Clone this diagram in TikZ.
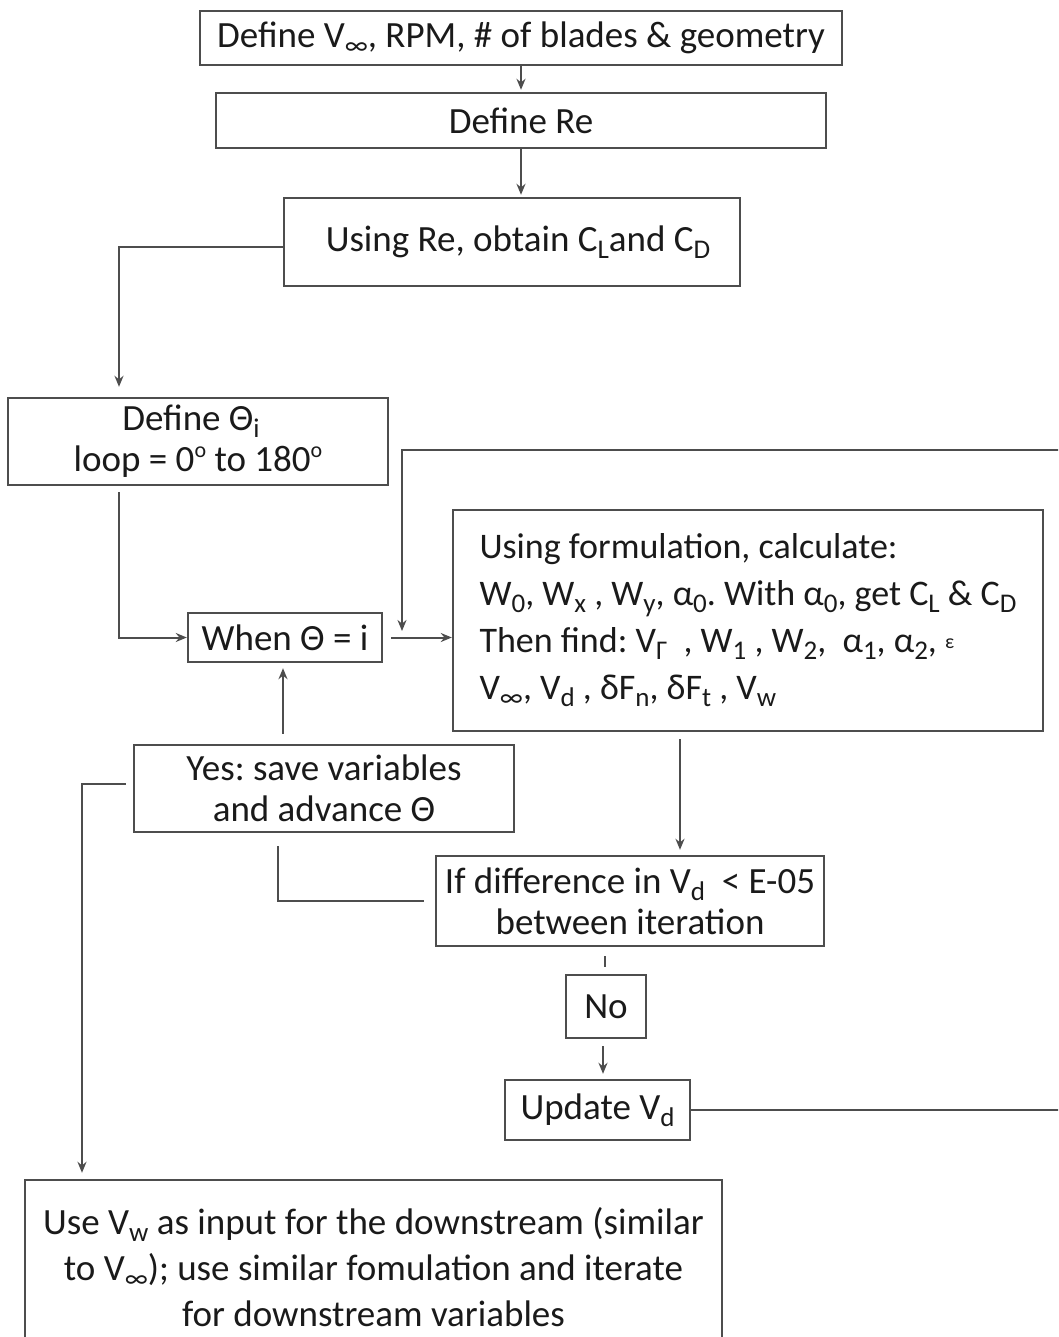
\documentclass[tikz,border=0pt]{standalone}
\usepackage{fontspec}
\setmainfont{Carlito}
\usetikzlibrary{arrows.meta,calc}
\definecolor{linec}{HTML}{4D4D4D}
\definecolor{txtc}{HTML}{1A1A1A}
\newcommand\sbs[1]{\raisebox{-7pt}{\fontsize{27}{27}\selectfont #1}}
\newcommand\sps[1]{\raisebox{14pt}{\fontsize{22}{22}\selectfont #1}}
\frenchspacing
\tikzset{
  box/.style={draw=linec, line width=2.4pt, inner sep=0pt, align=center, text=txtc, font=\fontsize{37}{41}\selectfont},
  conn/.style={draw=linec, line width=2pt},
  arr/.style={conn, -{Stealth[length=11pt,width=9pt]}}
}
\begin{document}
\begin{tikzpicture}[x=1pt,y=-1pt]
\useasboundingbox (0,0) rectangle (1058,1337);
\clip (0,0) rectangle (1058,1337);
\node[box, minimum width=642, minimum height=54] (top) at (521,38) {Define V\sbs{∞}, RPM, \# of blades \& geometry};
\node[box, minimum width=610, minimum height=55] (re) at (521,120.5) {Define Re};
\node[box, minimum width=456, minimum height=88] (clcd) at (512,242) {\hspace*{12pt}Using Re, obtain C\sbs{L}and C\sbs{D}};
\node[box, minimum width=380, minimum height=87] (theta) at (198,441.5) {\hspace*{-14pt}Define Θ\sbs{i}\\loop = 0\sps{o} to 180\sps{o}};
\node[box, minimum width=194, minimum height=49] (when) at (285,637.5) {When Θ = i};
\node[box, minimum width=590, minimum height=221, align=left, font=\fontsize{36}{47}\selectfont] (form) at (748,620.5) {Using formulation, calculate:\\W\sbs{0}, W\sbs{x} , W\sbs{y}, α\sbs{0}. With α\sbs{0}, get C\sbs{L} \& C\sbs{D}\hspace*{15pt}\\Then find: V\sbs{Γ}~ , W\sbs{1} , W\sbs{2}, ~α\sbs{1}, α\sbs{2}, \raisebox{4pt}{\fontsize{20}{20}\selectfont ε}\\V\sbs{∞}, V\sbs{d} , δF\sbs{n}, δF\sbs{t} , V\sbs{w}};
\node[box, minimum width=380, minimum height=87] (yes) at (324,788.5) {Yes: save variables\\and advance Θ};
\node[box, minimum width=388, minimum height=90] (diff) at (630,901) {If difference in V\sbs{d} ~< E-05\\between iteration};
\node[box, minimum width=80, minimum height=63] (no) at (606,1006.5) {No};
\node[box, minimum width=185, minimum height=60] (upd) at (597.5,1110) {Update V\sbs{d}};
\node[box, minimum width=697, minimum height=175, font=\fontsize{37}{46}\selectfont] (usevw) at (373.5,1267.5) {Use V\sbs{w} as input for the downstream (similar\\to V\sbs{∞}); use similar fomulation and iterate\\for downstream variables};
% coordinates
\coordinate (fbR) at (1065,450);
\coordinate (fbL) at (402,450);
\coordinate (fbE) at (402,631);
% connectors
\draw[arr, shorten >=2pt] (top.south) -- (re.north);
\draw[arr, shorten >=2pt] (re.south) -- (re.south |- clcd.north);
\draw[arr, shorten >=10pt] ([yshift=-5pt]clcd.west) -| ([xshift=-79pt]theta.north);
\draw[arr, shorten <=6pt] ([xshift=-79pt]theta.south) |- (when.west);
\draw[arr] (upd.east) -| (fbR) -- (fbL) -- (fbE);
\draw[arr, shorten <=8pt] (when.east) -- (when.east -| form.west);
\draw[arr, shorten <=7pt, shorten >=5pt] ([xshift=-68pt]form.south) -- ([xshift=-68pt]form.south |- diff.north);
\draw[conn, shorten <=11pt, shorten >=13pt] (diff.west) -| ([xshift=-46pt]yes.south);
\draw[arr, shorten <=10pt, shorten >=5pt] ([xshift=-41pt]yes.north) -- ([xshift=-41pt]yes.north |- when.south);
\draw[arr, shorten <=7pt, shorten >=6pt] ([yshift=5pt]yes.west) -| ([xshift=-291.5pt]usevw.north);
\draw[conn, shorten <=9pt, shorten >=7pt] ([xshift=-25pt]diff.south) -- ([xshift=-25pt]diff.south |- no.north);
\draw[arr, shorten <=7pt, shorten >=5pt] ([xshift=-3pt]no.south) -- ([xshift=-3pt]no.south |- upd.north);
\end{tikzpicture}
\end{document}
